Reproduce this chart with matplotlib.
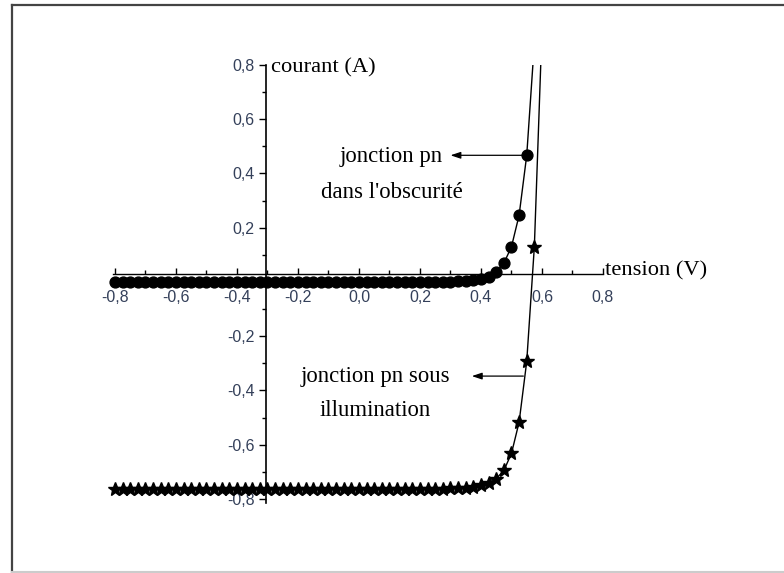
import matplotlib
matplotlib.use('Agg')
import matplotlib.pyplot as plt
from matplotlib.lines import Line2D
from matplotlib.ticker import MultipleLocator, FuncFormatter

# tension (V), pas de 0,025 V
tension = [-0.8, -0.775, -0.75, -0.725, -0.7, -0.675, -0.65, -0.625, -0.6, -0.575,
           -0.55, -0.525, -0.5, -0.475, -0.45, -0.425, -0.4, -0.375, -0.35, -0.325,
           -0.3, -0.275, -0.25, -0.225, -0.2, -0.175, -0.15, -0.125, -0.1, -0.075,
           -0.05, -0.025, 0.0, 0.025, 0.05, 0.075, 0.1, 0.125, 0.15, 0.175,
           0.2, 0.225, 0.25, 0.275, 0.3, 0.325, 0.35, 0.375, 0.4, 0.425,
           0.45, 0.475, 0.5, 0.525, 0.55, 0.575, 0.6]

# courant dans l'obscurite (A)
i_obscurite = [0.0] * 44 + [0.001, 0.002, 0.003, 0.006, 0.011, 0.02,
                            0.038, 0.069, 0.13, 0.246, 0.467, 0.88, 1.70]

# courant sous illumination (A)
i_illumination = [-0.762] * 44 + [-0.761, -0.760, -0.758, -0.755, -0.750, -0.742,
                                  -0.725, -0.695, -0.632, -0.517, -0.293, 0.13, 0.93]

x_major = [-0.8, -0.6, -0.4, -0.2, 0.0, 0.2, 0.4, 0.6, 0.8]
y_major = [-0.8, -0.6, -0.4, -0.2, 0.2, 0.4, 0.6, 0.8]

plt.rcParams['font.family'] = ['Liberation Serif', 'DejaVu Serif']

fig = plt.figure(figsize=(7.84, 5.73), dpi=100)
ax = fig.add_axes([0.135, 0.115, 0.6341, 0.7716])
ax.set_xlim(-0.83, 0.8)
ax.set_ylim(-0.83, 0.8)

ax.plot(tension, i_obscurite, color='black', lw=1, marker='o', ms=7.8)
ax.plot(tension, i_illumination, color='black', lw=1, marker='*', ms=10.5)

# axes au centre
for s in ['top', 'right']:
    ax.spines[s].set_visible(False)
ax.spines['left'].set_position(('data', -0.306))
ax.spines['bottom'].set_position(('data', 0.03))
ax.spines['left'].set_bounds(-0.815, 0.8)
ax.spines['bottom'].set_bounds(-0.807, 0.8)
ax.spines['left'].set_linewidth(1.2)
ax.spines['bottom'].set_linewidth(1.0)

fmt = FuncFormatter(lambda v, p: f'{v:.1f}'.replace('.', ',').replace('-0,0', '0,0'))
ax.set_xticks(x_major)
ax.set_yticks(y_major)
ax.xaxis.set_minor_locator(MultipleLocator(0.1))
ax.yaxis.set_minor_locator(MultipleLocator(0.1))
ax.xaxis.set_major_formatter(fmt)
ax.yaxis.set_major_formatter(fmt)
ax.tick_params(axis='x', which='major', direction='in', length=4, width=1, pad=11.5)
ax.tick_params(axis='x', which='minor', direction='in', length=3, width=1)
ax.tick_params(axis='y', which='major', direction='out', length=5, width=1, pad=3)
ax.tick_params(axis='y', which='minor', direction='out', length=3, width=1)
for lab in ax.get_xticklabels() + ax.get_yticklabels():
    lab.set_fontfamily('Liberation Sans')
    lab.set_fontsize(11.5)
    lab.set_color('#34405a')

ax.text(-0.287, 0.79, 'courant (A)', fontsize=16.2, ha='left', va='center')
ax.text(0.807, 0.04, 'tension (V)', fontsize=16.2, ha='left', va='center')

ax.text(0.107, 0.396, "jonction pn\ndans l'obscurité", fontsize=16.4,
        ha='center', va='center', linespacing=1.95)
ax.annotate('', xy=(0.30, 0.467), xytext=(0.535, 0.467),
            arrowprops=dict(arrowstyle='-|>,head_length=0.6,head_width=0.2',
                            color='black', lw=0.9, shrinkA=0, shrinkB=0))

ax.text(0.053, -0.411, 'jonction pn sous\nillumination', fontsize=16.4,
        ha='center', va='center', linespacing=1.8)
ax.annotate('', xy=(0.37, -0.347), xytext=(0.539, -0.347),
            arrowprops=dict(arrowstyle='-|>,head_length=0.6,head_width=0.2',
                            color='black', lw=0.9, shrinkA=0, shrinkB=0))

# cadre
W, H = 784, 573
fig.add_artist(Line2D([12 / W, 12 / W], [1 - 5 / H, 0], transform=fig.transFigure,
                      color='#444444', lw=1.6))
fig.add_artist(Line2D([12 / W, 1], [1 - 5 / H, 1 - 5 / H], transform=fig.transFigure,
                      color='#444444', lw=1.6))
fig.add_artist(Line2D([12 / W, 1], [1 - 572 / H, 1 - 572 / H], transform=fig.transFigure,
                      color='#cccccc', lw=1.5))

fig.savefig('out.png', dpi=100)
